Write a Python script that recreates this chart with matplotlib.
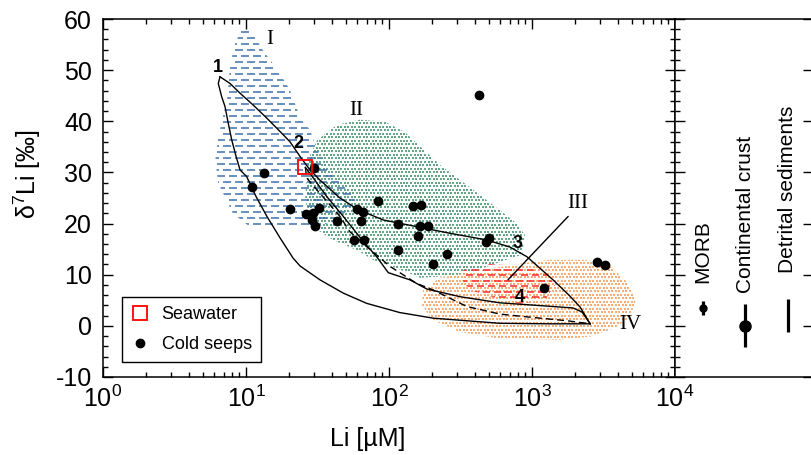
import numpy as np
import matplotlib.pyplot as plt
from matplotlib.patches import Polygon
from matplotlib.collections import LineCollection
from matplotlib.ticker import MultipleLocator, LogLocator, NullFormatter

plt.rcParams['font.family'] = ['Liberation Sans', 'DejaVu Sans']
plt.rcParams['mathtext.fontset'] = 'custom'
plt.rcParams['mathtext.rm'] = 'Liberation Sans'
plt.rcParams['mathtext.it'] = 'Liberation Sans:italic'
plt.rcParams['mathtext.bf'] = 'Liberation Sans:bold'
plt.rcParams['axes.unicode_minus'] = False

# cold seep pore fluids, Li [uM] and d7Li [permil]
seep_li = [30.0, 13.4, 11.1, 20.2, 26.3, 29.3, 32.2, 29.1, 30.4, 43.3, 57.2, 67.2,
           63.7, 65.5, 59.7, 84.2, 115, 115, 148, 167, 166, 187, 159, 256, 202,
           498, 474, 1220, 2830, 3260, 428]
seep_d7 = [30.9, 29.8, 27.2, 22.8, 21.9, 22.1, 23.1, 20.7, 19.6, 20.6, 16.7, 16.7,
           20.6, 22.2, 22.8, 24.4, 19.9, 14.8, 23.4, 23.6, 19.5, 19.5, 17.6, 14.1, 12.1,
           17.2, 16.3, 7.5, 12.4, 11.9, 45.2]

seawater_li = [26.0]
seawater_d7 = [31.0]

# mixing curves between end-members 1-4
curve_a_li = [6.58, 7.73, 9.08, 11.2, 14.0, 17.3, 20.3, 23.9, 28.0, 32.9, 45.4, 61.0,
              91.2, 156, 267, 482, 702, 923, 1403, 1845, 2167, 2550]
curve_a_d7 = [48.7, 47.4, 45.5, 43.2, 40.6, 38.0, 36.0, 33.1, 30.5, 28.5, 25.0, 22.7,
              20.7, 19.4, 18.1, 16.8, 15.4, 13.5, 9.0, 5.8, 3.7, 0.4]

curve_b_li = [6.58, 6.40, 6.76, 7.13, 7.48, 7.94, 8.51, 9.08, 10.1, 11.8, 14.0, 17.3,
              21.4, 23.9, 32.9, 47.9, 69.8, 119, 204, 597, 1340, 2550]
curve_b_d7 = [48.7, 47.4, 44.8, 42.9, 39.9, 36.4, 33.2, 30.5, 29.2, 25.2, 21.4, 17.2,
              13.2, 11.7, 9.0, 6.4, 4.4, 2.6, 1.5, 0.5, 0.4, 0.4]

curve_c_li = [26.0, 28.0, 36.7, 47.9, 66.1, 82.0, 98.9, 140, 184, 314, 597, 968, 1935, 2239, 2550]
curve_c_d7 = [31.0, 29.8, 25.3, 21.4, 16.5, 13.5, 10.4, 9.0, 7.2, 5.7, 4.5, 4.1, 3.5, 2.7, 0.4]

curve_d_li = [26.0, 26.6, 32.9, 45.4, 53.3, 69.8, 102, 156, 204, 349, 597, 968, 1757, 2550]
curve_d_d7 = [31.0, 28.9, 25.9, 21.4, 18.4, 15.5, 11.6, 8.3, 7.0, 3.8, 2.3, 1.7, 1.0, 0.4]

# fields I-IV
field1_li = [9.5, 11.0, 13.1, 16.7, 20.3, 23.9, 28.0, 31.4, 36.8, 45.4, 56.0, 58.8,
             49.2, 31.4, 10.7, 8.1, 6.4, 6.1, 6.4, 7.4, 7.7, 8.2, 9.1]
field1_d7 = [58.3, 57.5, 53.9, 50.0, 46.1, 40.8, 38.3, 34.4, 31.1, 28.0, 26.0, 24.0,
             21.3, 19.3, 19.3, 22.0, 27.9, 32.4, 36.9, 44.7, 50.0, 54.5, 57.5]

field2_li = [62.7, 93.7, 129, 227, 433, 761, 893, 851, 597, 340, 165, 107, 77.3,
             59.7, 40.6, 29.4, 25.9, 27.1, 31.4, 43.3]
field2_d7 = [40.3, 39.9, 37.9, 31.5, 25.6, 20.3, 17.8, 13.9, 12.5, 9.95, 9.4, 11.5, 12.9,
             14.8, 16.8, 19.3, 24.6, 32.4, 36.3, 39.3]

field3_li = [329, 508, 824, 1233, 1449, 1233, 824, 551, 368, 324]
field3_d7 = [10.9, 12.1, 11.7, 10.5, 8.0, 5.1, 4.3, 5.5, 7.0, 9.0]

field4_li = [173, 227, 368, 702, 1336, 2348, 3511, 4690, 5337, 4844, 3802, 2547,
             1570, 597, 314, 200, 170]
field4_d7 = [7.0, 9.4, 10.5, 11.9, 12.9, 12.9, 11.7, 8.4, 5.1, 1.7, -0.4, -2.1,
             -2.7, -2.5, -1.2, 1.2, 4.1]

# reference reservoirs (mean +/- range)
ref_names = ['MORB', 'Continental crust', 'Detrital sediments']
ref_mean = [3.5, 0.0, 2.0]
ref_err = [1.4, 4.2, 3.2]

fig = plt.figure(figsize=(8.11, 4.55), dpi=100)
ax = fig.add_axes([103 / 811, 78 / 455, 572 / 811, 358 / 455])
ax2 = fig.add_axes([675 / 811, 78 / 455, 138 / 811, 358 / 455])

ax.set_xscale('log')
ax.set_xlim(1, 1e4)
ax.set_ylim(-10, 60)

bb = ax.get_window_extent()
W, H = bb.width, bb.height


def field_patch(li, d7):
    p = Polygon(np.column_stack([li, d7]), closed=True, facecolor='none', edgecolor='none')
    ax.add_patch(p)
    return p


def dash_fill(li, d7, color, row, dash, gap, lw=1.1):
    patch = field_patch(li, d7)
    period = dash + gap
    segs = []
    for i, y in enumerate(np.arange(row / 2, H, row)):
        start = -(i % 2) * period / 2
        for x in np.arange(start, W, period):
            segs.append([(x / W, y / H), ((x + dash) / W, y / H)])
    lc = LineCollection(segs, colors=color, linewidths=lw, transform=ax.transAxes, zorder=1)
    lc.set_clip_path(patch)
    ax.add_collection(lc, autolim=False)


def dot_fill(li, d7, color, step, size=0.6):
    patch = field_patch(li, d7)
    gx, gy = np.meshgrid(np.arange(step / 2, W, step), np.arange(step / 2, H, step))
    gx[1::2] += step / 2
    sc = ax.scatter(gx.ravel() / W, gy.ravel() / H, s=size, marker='s', color=color,
                    linewidths=0, transform=ax.transAxes, zorder=1)
    sc.set_clip_path(patch)


dot_fill(field2_li, field2_d7, '#64a688', 3.5)
dot_fill(field4_li, field4_d7, '#f7ad74', 3.5)
dash_fill(field1_li, field1_d7, '#3f70aa', 6.0, 8.0, 4.0)
dash_fill(field3_li, field3_d7, '#ff2a2a', 5.5, 7.0, 4.0)

ax.set_xlim(1, 1e4)
ax.set_ylim(-10, 60)

ax.plot(curve_a_li, curve_a_d7, color='black', lw=1.0, zorder=2)
ax.plot(curve_b_li, curve_b_d7, color='black', lw=1.0, zorder=2)
ax.plot(curve_c_li, curve_c_d7, color='black', lw=1.0, zorder=2)
ax.plot(curve_d_li, curve_d_d7, color='black', lw=1.0, ls=(0, (5, 3)), zorder=2)

ax.plot(seawater_li, seawater_d7, 's', ms=10, mfc='none', mec='red', mew=1.3,
        zorder=4, label='Seawater')
ax.plot(seep_li, seep_d7, 'o', ms=6, color='black', zorder=3, label='Cold seeps')

# field and end-member labels
for txt, x, y in [('I', 14.7, 55.9), ('II', 58.8, 42.2), ('IV', 4845, 0.2)]:
    ax.text(x, y, txt, family='Liberation Serif', fontsize=15, ha='center', va='center')
ax.annotate('III', xy=(679, 9.0), xytext=(2100, 24.0), family='Liberation Serif',
            fontsize=15, ha='center', va='center',
            arrowprops=dict(arrowstyle='-', lw=1.0, color='black', relpos=(0.2, 0.0),
                            shrinkA=1, shrinkB=0))
for txt, x, y in [('1', 6.37, 50.6), ('2', 23.1, 35.7), ('3', 798, 16.2), ('4', 824, 5.6)]:
    ax.text(x, y, txt, fontsize=13, fontweight='bold', ha='center', va='center')

ax.xaxis.set_major_locator(LogLocator(base=10, numticks=10))
ax.xaxis.set_minor_locator(LogLocator(base=10, subs=np.arange(2, 10), numticks=10))
ax.xaxis.set_minor_formatter(NullFormatter())
ax.yaxis.set_major_locator(MultipleLocator(10))
ax.yaxis.set_minor_locator(MultipleLocator(2))
ax.tick_params(which='both', direction='in', top=True, right=True, width=1.0)
ax.tick_params(which='major', length=7, labelsize=18)
ax.tick_params(which='minor', length=3.5)
ax.tick_params(axis='y', pad=8)
ax.tick_params(axis='x', pad=6)
for s in ax.spines.values():
    s.set_linewidth(1.1)

ax.set_xlabel('Li [µM]', fontsize=18)
ax.set_ylabel('δ$^{7}$Li [‰]', fontsize=18)
ax.xaxis.set_label_coords(0.463, -0.14)
ax.yaxis.set_label_coords(-0.105, 0.567)

ax.legend(loc='lower left', bbox_to_anchor=(0.033, 0.042), borderaxespad=0,
          fontsize=13, frameon=True, fancybox=False, edgecolor='black',
          framealpha=1, handlelength=1.0, handletextpad=0.7, labelspacing=0.7,
          borderpad=0.5).get_frame().set_linewidth(1.0)

# reservoir panel
ax2.set_xlim(0.34, 3.59)
ax2.set_ylim(-10, 60)
ax2.set_xticks([])
ax2.yaxis.set_major_locator(MultipleLocator(10))
ax2.yaxis.set_minor_locator(MultipleLocator(2))
ax2.tick_params(axis='y', which='both', direction='in', left=True, right=True,
                labelleft=False, width=1.0)
ax2.tick_params(axis='y', which='major', length=7)
ax2.tick_params(axis='y', which='minor', length=3.5, right=False)
for s in ax2.spines.values():
    s.set_linewidth(1.1)

fmts = ['o', 'o', 'none']
sizes = [5, 8, 0]
label_y = [8.4, 6.4, 10.3]
for i, name in enumerate(ref_names):
    ax2.errorbar([i + 1], [ref_mean[i]], yerr=[ref_err[i]], fmt=fmts[i], ms=sizes[i],
                 color='black', elinewidth=2.3, capsize=0)
    ax2.text(i + 1, label_y[i], name, rotation=90, ha='center', va='bottom', fontsize=15)

fig.savefig('out.png', dpi=100)
